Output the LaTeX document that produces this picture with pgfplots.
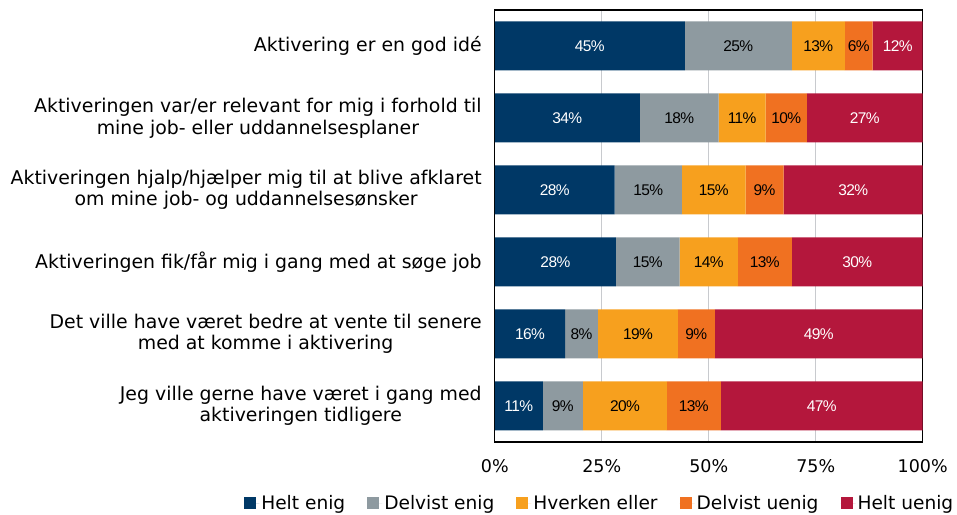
\documentclass[border=0pt]{standalone}
\usepackage{fontspec}
\setmainfont{DejaVu Sans}
\newfontfamily\barfont[LetterSpace=-4]{Liberation Sans}
\usepackage{pgfplots}
\usepackage{pgfplotstable}
\pgfplotsset{compat=1.18}
\pgfplotsset{sqlegend/.style={legend image code/.code={\path[##1] (0pt,-6pt) rectangle (12pt,6pt); \path (0pt,0pt) -- (15pt,0pt);}}}
\definecolor{cA}{HTML}{003866}
\definecolor{cB}{HTML}{8E9AA0}
\definecolor{cC}{HTML}{F7A01E}
\definecolor{cD}{HTML}{F07121}
\definecolor{cE}{HTML}{B4173C}
\definecolor{gridc}{HTML}{C8CACE}
\pgfplotstableread{
pos val lab
5 44.4 45
4 33.9 34
3 28.0 28
2 28.3 28
1 16.4 16
0 11.2 11
}\tA
\pgfplotstableread{
pos val lab
5 25.0 25
4 18.4 18
3 15.7 15
2 14.9 15
1 7.7 8
0 9.4 9
}\tB
\pgfplotstableread{
pos val lab
5 12.4 13
4 11.0 11
3 14.9 15
2 13.6 14
1 18.7 19
0 19.6 20
}\tC
\pgfplotstableread{
pos val lab
5 6.5 6
4 9.6 10
3 8.9 9
2 12.6 13
1 8.6 9
0 12.6 13
}\tD
\pgfplotstableread{
pos val lab
5 11.7 12
4 27.1 27
3 32.5 32
2 30.6 30
1 48.6 49
0 47.2 47
}\tE
\begin{document}
\begin{tikzpicture}
\begin{axis}[
  scale only axis,
  width=428pt, height=432pt,
  xbar stacked, bar width=49pt,
  xmin=0, xmax=100, ymin=-0.5, ymax=5.5,
  xtick={0,25,50,75,100},
  xticklabel={\pgfmathprintnumber{\tick}\%},
  /pgf/number format/assume math mode=true,
  ytick={0,1,2,3,4,5},
  yticklabels={{Jeg ville gerne have været i gang med\\aktiveringen tidligere},
               {Det ville have været bedre at vente til senere\\med at komme i aktivering},
               {Aktiveringen fik/får mig i gang med at søge job},
               {Aktiveringen hjalp/hjælper mig til at blive afklaret\\om mine job- og uddannelsesønsker},
               {Aktiveringen var/er relevant for mig i forhold til\\mine job- eller uddannelsesplaner},
               {Aktivering er en god idé}},
  yticklabel style={font=\fontsize{18.9}{21.7}\selectfont, align=center, inner sep=0pt, xshift=-13pt},
  xticklabel style={font=\fontsize{17.5}{20}\selectfont, inner sep=0pt, yshift=-17pt},
  major tick length=0pt,
  xmajorgrids, grid style={gridc, line width=1pt},
  axis line style={black, line width=1.3pt},
  point meta=explicit,
  nodes near coords={\pgfmathprintnumber[fixed,precision=0]{\pgfplotspointmeta}\%},
  every node near coord/.append style={anchor=center, font=\barfont\fontsize{15.5}{18}\selectfont},
  legend columns=5,
  legend style={draw=none, fill=none, inner sep=0pt, at={(axis cs:-58.6,-1.35)}, anchor=west,
    font=\fontsize{18.6}{21}\selectfont,
    /tikz/every even column/.append style={column sep=20pt}},
  clip=false,
]
\addplot[fill=cA, draw=none, every node near coord/.append style={text=white}, sqlegend] table[x=val, y=pos, meta=lab]{\tA};
\addplot[fill=cB, draw=none, every node near coord/.append style={text=black}, sqlegend] table[x=val, y=pos, meta=lab]{\tB};
\addplot[fill=cC, draw=none, every node near coord/.append style={text=black}, sqlegend] table[x=val, y=pos, meta=lab]{\tC};
\addplot[fill=cD, draw=none, every node near coord/.append style={text=black}, sqlegend] table[x=val, y=pos, meta=lab]{\tD};
\addplot[fill=cE, draw=none, every node near coord/.append style={text=white}, sqlegend] table[x=val, y=pos, meta=lab]{\tE};
\legend{Helt enig, Delvist enig, Hverken eller, Delvist uenig, Helt uenig}
\coordinate (sw) at (rel axis cs:0,0);
\coordinate (ne) at (rel axis cs:1,1);
\end{axis}
\path ([shift={(-495pt,-72.3pt)}]sw) rectangle ([shift={(34.3pt,10pt)}]ne);
\end{tikzpicture}
\end{document}
